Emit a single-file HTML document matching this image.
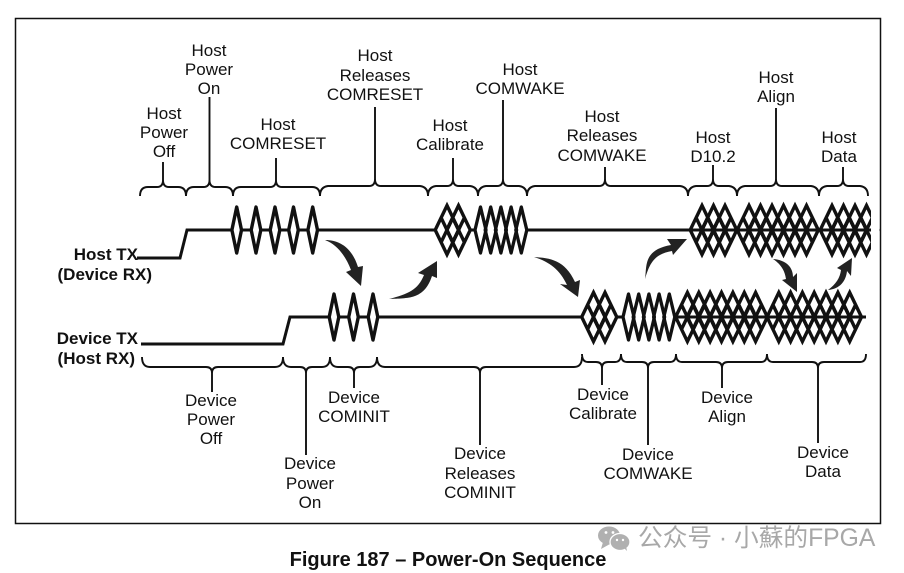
<!DOCTYPE html>
<html>
<head>
<meta charset="utf-8">
<style>
html,body{margin:0;padding:0;background:#fff;width:904px;height:573px;overflow:hidden}
svg{display:block}
text{font-family:"Liberation Sans",Arial,sans-serif;font-size:17px;fill:#111;text-anchor:middle}
.b{font-weight:bold}
.wm{font-family:"Liberation Sans","Noto Sans CJK SC",sans-serif;font-size:24.7px;fill:#a8a8a8;text-anchor:start}
</style>
</head>
<body>
<svg width="904" height="573" viewBox="0 0 904 573" xmlns="http://www.w3.org/2000/svg">
<defs>
<polygon id="n" points="0,-23 4.8,0 0,23 -4.8,0" fill="#fff" stroke="#111" stroke-width="3.4" stroke-linejoin="round"/>
<polygon id="w" points="0,-23 5.5,0 0,23 -5.5,0" fill="none" stroke="#111" stroke-width="3.3" stroke-linejoin="round"/>
<path id="l" d="M0,-24.5 L11.8,0 L0,24.5 L-11.8,0 Z M-5.9,-12.25 L5.9,12.25 M5.9,-12.25 L-5.9,12.25" fill="none" stroke="#111" stroke-width="3.4" stroke-miterlimit="10"/>
</defs>
<rect x="15.5" y="18.5" width="865" height="505" fill="none" stroke="#111" stroke-width="1.5"/>

<!-- signal lines -->
<path d="M137,258 H180 L187,230 H435 M471,230 H476 M526,230 H871" fill="none" stroke="#111" stroke-width="3"/>
<path d="M141,344 H283 L290,317 H582 M617,317 H624 M674,317 H866" fill="none" stroke="#111" stroke-width="3"/>

<g transform="translate(0,230)">
<!-- host COMRESET -->
<use href="#n" x="236.7"/><use href="#n" x="256"/><use href="#n" x="275"/><use href="#n" x="293.5"/><use href="#n" x="312.7"/>
<!-- host calibrate -->
<use href="#l" x="447"/><use href="#l" x="458.5"/>
<!-- host COMWAKE -->
<use href="#w" x="480.5"/><use href="#w" x="490.7"/><use href="#w" x="500.9"/><use href="#w" x="511.1"/><use href="#w" x="521.3"/>
<!-- host D10.2 -->
<use href="#l" x="702"/><use href="#l" x="713.5"/><use href="#l" x="725"/>
<!-- host align -->
<use href="#l" x="749"/><use href="#l" x="760.5"/><use href="#l" x="772"/><use href="#l" x="783.5"/><use href="#l" x="795"/><use href="#l" x="806.5"/>
<!-- host data -->
<use href="#l" x="832"/><use href="#l" x="843.5"/><use href="#l" x="855"/><use href="#l" x="866.5"/>
</g>
<rect x="871" y="195" width="8.5" height="70" fill="#fff"/>

<g transform="translate(0,317)">
<!-- device COMINIT -->
<use href="#n" x="334"/><use href="#n" x="353.5"/><use href="#n" x="373"/>
<!-- device calibrate -->
<use href="#l" x="593.5"/><use href="#l" x="605"/>
<!-- device COMWAKE -->
<use href="#w" x="628.5"/><use href="#w" x="638.7"/><use href="#w" x="648.9"/><use href="#w" x="659.1"/><use href="#w" x="669.3"/>
<!-- device align -->
<use href="#l" x="687.4"/><use href="#l" x="698.8"/><use href="#l" x="710.1"/><use href="#l" x="721.5"/><use href="#l" x="732.9"/><use href="#l" x="744.3"/><use href="#l" x="755.6"/>
<!-- device data -->
<use href="#l" x="778.8"/><use href="#l" x="790.6"/><use href="#l" x="802.4"/><use href="#l" x="814.2"/><use href="#l" x="826"/><use href="#l" x="837.9"/><use href="#l" x="849.7"/>
</g>

<!-- top braces -->
<g fill="none" stroke="#111" stroke-width="1.9">
<path d="M140,196 q0,-9 8,-9 H157 q6,0 6,-7 q0,7 6,7 H178 q8,0 8,9"/><path d="M163,180 V162"/>
<path d="M186,196 q0,-9 8,-9 H203.5 q6,0 6,-7 q0,7 6,7 H225 q8,0 8,9"/><path d="M209.5,180 V97"/>
<path d="M233,196 q0,-9 8,-9 H270 q6,0 6,-7 q0,7 6,7 H312 q8,0 8,9"/><path d="M276,180 V158"/>
<path d="M320,196 q0,-9 8,-10 H369 q6,0 6,-7 q0,7 6,7 H420 q8,1 8,10"/><path d="M375,179 V107"/>
<path d="M428,196 q0,-9 8,-10 H447 q6,0 6,-7 q0,7 6,7 H470 q8,1 8,10"/><path d="M453,179 V158"/>
<path d="M478,196 q0,-9 8,-10 H497 q6,0 6,-7 q0,7 6,7 H519 q8,1 8,10"/><path d="M503,179 V100"/>
<path d="M527,196 q0,-9 8,-10 H599 q6,0 6,-7 q0,7 6,7 H680 q8,1 8,10"/><path d="M605,179 V167"/>
<path d="M688,196 q0,-9 8,-10 H707 q6,0 6,-7 q0,7 6,7 H729 q8,1 8,10"/><path d="M713,179 V165"/>
<path d="M737,196 q0,-9 8,-10 H770 q6,0 6,-7 q0,7 6,7 H811 q8,1 8,10"/><path d="M776,179 V108"/>
<path d="M819,196 q0,-9 8,-10 H837 q6,0 6,-7 q0,7 6,7 H860 q8,1 8,10"/><path d="M843,179 V167"/>

<!-- bottom braces -->
<path d="M142,357 q0,10 8,10 H206 q6,0 6,6 q0,-6 6,-6 H275 q8,0 8,-10"/><path d="M212,373 V392"/>
<path d="M283,357 q0,10 8,10 H300 q6,0 6,6 q0,-6 6,-6 H322 q8,0 8,-10"/><path d="M306,373 V455"/>
<path d="M330,357 q0,10 8,10 H348 q6,0 6,6 q0,-6 6,-6 H369 q8,0 8,-10"/><path d="M354,373 V388"/>
<path d="M377,357 q0,10 8,10 H474 q6,0 6,6 q0,-6 6,-6 H574 q8,0 8,-10"/><path d="M480,373 V445"/>
<path d="M582,354 q0,8 6,8 H596 q6,0 6,6 q0,-6 6,-6 H615 q6,0 6,-8"/><path d="M602,368 V385"/>
<path d="M621,354 q0,8 6,8 H642 q6,0 6,6 q0,-6 6,-6 H670 q6,0 6,-8"/><path d="M648,368 V445"/>
<path d="M676,354 q0,8 6,8 H716 q6,0 6,6 q0,-6 6,-6 H761 q6,0 6,-8"/><path d="M722,368 V388"/>
<path d="M767,354 q0,8 6,8 H812 q6,0 6,6 q0,-6 6,-6 H860 q6,0 6,-8"/><path d="M818,368 V443"/>
</g>

<!-- curved arrows -->
<g fill="#222">
<path d="M325,240 C340,240 352,248 358,267 L363,266 L361,286 L346,272 L351,270 C346,257 338,245 325,240 Z"/>
<path d="M389,299 C408,298 424,300 432,276 L437,278 L437,261 L418,273 L424,275 C418,290 408,294 389,299 Z"/>
<path d="M534,257 C550,258 565,260 575,282 L580,280 L578,297 L560,284 L567,285 C560,270 550,262 534,257 Z"/>
<path d="M645,279 C647,266 643,250 671,245 L667,239 L687,239 L673,255 L672,251 C655,254 650,262 645,279 Z"/>
<path d="M773,259 C786,260 793,267 793,277 L797,273 L797,292 L782,280 L786,279 C785,272 782,265 773,259 Z"/>
<path d="M828,290 C840,289 846,281 847,271 L851,276 L852,258 L837,268 L841,270 C840,278 836,284 828,290 Z"/>
</g>

<!-- top labels -->
<text x="209" y="56">Host</text><text x="209" y="75">Power</text><text x="209" y="94">On</text>
<text x="164" y="119">Host</text><text x="164" y="138">Power</text><text x="164" y="157">Off</text>
<text x="278" y="130">Host</text><text x="278" y="149">COMRESET</text>
<text x="375" y="61">Host</text><text x="375" y="81">Releases</text><text x="375" y="100">COMRESET</text>
<text x="450" y="131">Host</text><text x="450" y="150">Calibrate</text>
<text x="520" y="75">Host</text><text x="520" y="94">COMWAKE</text>
<text x="602" y="122">Host</text><text x="602" y="141">Releases</text><text x="602" y="161">COMWAKE</text>
<text x="713" y="143">Host</text><text x="713" y="162">D10.2</text>
<text x="776" y="83">Host</text><text x="776" y="102">Align</text>
<text x="839" y="143">Host</text><text x="839" y="162">Data</text>

<!-- bottom labels -->
<text x="211" y="406">Device</text><text x="211" y="425">Power</text><text x="211" y="444">Off</text>
<text x="310" y="469">Device</text><text x="310" y="489">Power</text><text x="310" y="508">On</text>
<text x="354" y="403">Device</text><text x="354" y="422">COMINIT</text>
<text x="480" y="459">Device</text><text x="480" y="479">Releases</text><text x="480" y="498">COMINIT</text>
<text x="603" y="400">Device</text><text x="603" y="419">Calibrate</text>
<text x="648" y="460">Device</text><text x="648" y="479">COMWAKE</text>
<text x="727" y="403">Device</text><text x="727" y="422">Align</text>
<text x="823" y="458">Device</text><text x="823" y="477">Data</text>

<!-- side labels -->
<text class="b" x="138" y="260" style="text-anchor:end">Host TX</text>
<text class="b" x="152" y="280" style="text-anchor:end">(Device RX)</text>
<text class="b" x="138" y="344" style="text-anchor:end">Device TX</text>
<text class="b" x="135" y="364" style="text-anchor:end">(Host RX)</text>

<!-- caption -->
<text class="b" x="448" y="566" style="font-size:20px">Figure 187 – Power-On Sequence</text>

<!-- watermark -->
<g fill="#b0b0b0">
<ellipse cx="609" cy="535.5" rx="11" ry="9"/>
<path d="M603,542 L601,549 L610,544 Z"/>
</g>
<ellipse cx="620" cy="542" rx="10" ry="8.5" fill="#b0b0b0" stroke="#fff" stroke-width="1.3"/>
<path d="M624,548 L627,551 L626,546 Z" fill="#b0b0b0"/>
<circle cx="617" cy="540" r="1.2" fill="#fff"/><circle cx="623" cy="540" r="1.2" fill="#fff"/>
<circle cx="606" cy="532.5" r="1.4" fill="#fff"/><circle cx="613" cy="532.5" r="1.4" fill="#fff"/>
<text class="wm" x="638" y="546">公众号 · 小蘇的FPGA</text>
</svg>
</body>
</html>
